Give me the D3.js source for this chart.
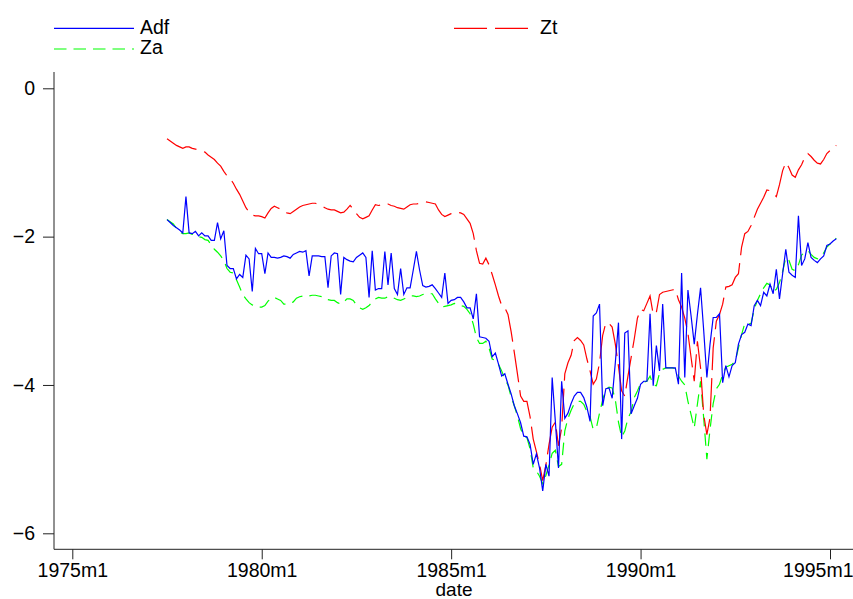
<!DOCTYPE html>
<html>
<head>
<meta charset="utf-8">
<script src="https://cdn.jsdelivr.net/npm/d3@7"></script>
<style>
  body { margin: 0; background: #fff; }
  svg text { font-family: "Liberation Sans", Arial, Helvetica, sans-serif; }
</style>
</head>
<body>
<div id="chart"></div>
<script>
// monthly series, first month = 1977m7 (months counted from 1975m1)
let startMonth = 30;

let adf = [
  -1.77,-1.81,-1.85,-1.88,-1.91,-1.95,-1.46,-1.95,-1.96,-1.93,
  -1.99,-1.95,-1.99,-1.99,-2.05,-2.05,-1.81,-2.03,-1.92,-2.39,
  -2.43,-2.43,-2.57,-2.51,-2.55,-2.25,-2.30,-2.74,-2.16,-2.23,
  -2.23,-2.50,-2.22,-2.28,-2.28,-2.29,-2.28,-2.26,-2.27,-2.29,
  -2.24,-2.22,-2.20,-2.21,
  -2.19,-2.53,-2.26,-2.26,-2.26,-2.27,-2.27,
  -2.69,-2.26,-2.22,-2.23,-2.78,-2.28,-2.31,-2.33,-2.34,-2.28,
  -2.25,-2.22,-2.28,-2.82,-2.19,-2.72,-2.70,-2.70,-2.20,-2.65,
  -2.22,-2.70,-2.78,-2.43,-2.78,-2.69,-2.69,-2.45,-2.20,-2.45,
  -2.66,-2.68,-2.67,-2.65,-2.70,-2.76,-2.82,-2.49,-2.90,-2.86,
  -2.85,-2.82,-2.82,-2.88,-2.96,-2.96,-3.11,-2.77,-3.35,-3.36,
  -3.37,-3.41,-3.62,-3.57,-3.72,-3.88,-3.85,-3.99,-4.12,-4.28,
  -4.39,-4.51,-4.69,-4.70,-4.80,-5.07,-4.93,-5.12,-5.43,-5.07,
  -5.23,-3.90,-4.49,-5.12,-3.95,-4.45,-4.38,-4.25,-4.15,-4.10,
  -4.10,-4.17,-4.30,-4.49,-3.07,-3.03,-2.91,-4.28,-4.05,-4.04,
  -4.18,-3.70,-3.16,-4.73,-3.30,-3.27,-4.39,-4.28,-4.18,-3.99,
  -3.95,-3.95,-3.04,-4.01,-3.47,-3.81,-2.91,-3.77,-3.77,-3.77,
  -3.77,-3.99,-2.49,-3.90,-2.72,-3.07,-3.45,-3.05,-2.69,-3.27,
  -3.90,-3.45,-3.09,-3.09,-3.04,-3.97,-3.74,-3.89,-3.74,-3.70,
  -3.45,-3.32,-3.29,-3.18,-3.20,-2.93,-2.86,-2.93,-2.75,-2.80,
  -2.64,-2.77,-2.44,-2.84,-2.50,-2.17,-2.48,-2.52,-2.55,-1.72,
  -2.39,-2.30,-2.08,-2.28,-2.32,-2.35,-2.30,-2.26,-2.12,-2.10,-2.06,-2.03
];

let zt = [
  -0.68,-0.71,-0.74,-0.77,-0.79,-0.81,-0.79,-0.79,-0.81,-0.82,
  -0.83,-0.84,-0.86,-0.90,-0.93,-0.96,-1.01,-1.05,-1.12,-1.18,
  -1.22,-1.28,-1.36,-1.43,-1.52,-1.61,-1.67,-1.71,-1.72,-1.72,
  -1.73,-1.75,-1.68,-1.62,-1.59,-1.61,-1.63,-1.66,-1.68,-1.69,
  -1.66,-1.63,-1.60,-1.58,
  -1.57,-1.56,-1.55,-1.55,-1.57,-1.59,-1.61,
  -1.63,-1.64,-1.64,-1.66,-1.68,-1.67,-1.63,-1.58,-1.63,-1.69,
  -1.74,-1.76,-1.74,-1.72,-1.64,-1.57,-1.58,-1.57,-1.55,-1.56,
  -1.58,-1.59,-1.61,-1.62,-1.63,-1.60,-1.57,-1.56,-1.56,-1.55,
  -1.54,-1.53,-1.54,-1.55,-1.56,-1.64,-1.70,-1.73,-1.71,-1.69,
  -1.67,-1.67,-1.68,-1.70,-1.76,-1.82,-1.96,-2.19,-2.36,-2.37,
  -2.29,-2.38,-2.51,-2.65,-2.80,-2.93,-2.96,-3.05,-3.28,-3.56,
  -3.85,-4.15,-4.22,-4.22,-4.43,-4.73,-4.90,-5.07,-5.29,-5.08,
  -4.80,-4.57,-4.50,-4.82,-4.58,-3.85,-3.70,-3.60,-3.40,-3.36,
  -3.40,-3.46,-3.65,-3.81,-3.99,-3.92,-3.70,-3.33,-3.16,-3.17,
  -3.22,-3.45,-3.75,-4.08,-4.15,-3.88,-3.63,-3.38,-3.10,-2.98,
  -3.00,-2.90,-2.80,-3.05,-3.02,-2.78,-2.75,-2.74,-2.73,-2.72,
  -2.71,-2.85,-2.95,-3.10,-3.30,-3.63,-3.95,-3.41,-3.77,-4.40,
  -4.67,-4.44,-3.50,-3.14,-3.05,-2.91,-2.68,-2.67,-2.65,-2.55,
  -2.50,-2.14,-1.96,-1.93,-1.85,-1.74,-1.63,-1.55,-1.47,-1.37,
  -1.38,-1.42,-1.46,-1.30,-1.11,-1.00,-1.07,-1.17,-1.20,-1.10,
  -1.03,-0.93,-0.88,-0.92,-0.97,-1.01,-1.02,-0.96,-0.88,-0.84,-0.79,-0.77
];

let za = [
  -1.77,-1.80,-1.83,-1.89,-1.94,-1.96,-1.96,-1.95,-1.97,-1.98,
  -2.00,-2.01,-2.04,-2.05,-2.11,-2.17,-2.21,-2.26,-2.32,-2.43,
  -2.48,-2.49,-2.58,-2.68,-2.78,-2.84,-2.89,-2.92,-2.94,-2.95,
  -2.95,-2.93,-2.87,-2.83,-2.82,-2.84,-2.86,-2.91,-2.91,-2.90,
  -2.88,-2.83,-2.81,-2.80,
  -2.80,-2.80,-2.79,-2.79,-2.80,-2.81,-2.84,
  -2.85,-2.86,-2.86,-2.89,-2.91,-2.88,-2.84,-2.84,-2.86,-2.92,
  -2.96,-2.98,-2.96,-2.93,-2.88,-2.84,-2.82,-2.83,-2.83,-2.81,
  -2.81,-2.83,-2.85,-2.86,-2.84,-2.82,-2.80,-2.80,-2.81,-2.80,
  -2.78,-2.77,-2.77,-2.77,-2.84,-2.90,-2.95,-2.94,-2.93,-2.92,
  -2.90,-2.91,-2.93,-2.94,-2.98,-3.04,-3.18,-3.36,-3.44,-3.44,
  -3.41,-3.50,-3.65,-3.67,-3.72,-3.81,-3.92,-4.00,-4.16,-4.28,
  -4.42,-4.59,-4.69,-4.71,-4.86,-5.12,-5.16,-5.23,-5.33,-5.22,
  -5.08,-4.92,-4.88,-5.10,-5.07,-4.62,-4.45,-4.34,-4.25,-4.22,
  -4.22,-4.26,-4.36,-4.43,-4.60,-4.58,-4.38,-4.20,-4.06,-4.03,
  -4.04,-4.20,-4.50,-4.70,-4.62,-4.45,-4.36,-4.17,-4.08,-3.98,
  -3.96,-3.95,-3.88,-4.00,-4.01,-3.84,-3.79,-3.77,-3.77,-3.77,
  -3.78,-3.88,-3.95,-4.00,-4.22,-4.40,-4.58,-4.26,-3.95,-4.45,
  -5.00,-4.60,-4.25,-4.05,-3.99,-3.86,-3.76,-3.74,-3.72,-3.68,
  -3.50,-3.32,-3.17,-3.18,-3.17,-2.98,-2.86,-2.77,-2.69,-2.63,
  -2.65,-2.74,-2.71,-2.62,-2.47,-2.28,-2.32,-2.44,-2.46,-2.38,
  -2.25,-2.21,-2.19,-2.24,-2.28,-2.30,-2.27,-2.22,-2.14,-2.10,-2.06,-2.02
];

// tick labels
let xTicks = [0, 60, 120, 180, 240];   // 1975m1 ... 1995m1
let xTickLabels = ["1975m1", "1980m1", "1985m1", "1990m1", "1995m1"];
let yTicks = [0, -2, -4, -6];

let series = [
  {name: "Adf", values: adf, color: "#0000ff", dash: null},
  {name: "Zt",  values: zt,  color: "#ff0000", dash: "33,8"},
  {name: "Za",  values: za,  color: "#00ff00", dash: "12.5,7"}
];

let width = 853, height = 599;
let fontSize = 19.5;

let svg = d3.select("#chart")
    .append("svg")
    .attr("width", width)
    .attr("height", height);

// scales
let x = d3.scaleLinear().domain([0, 240]).range([72.3, 830]);
let y = d3.scaleLinear().domain([0, -6]).range([88.3, 533.3]);

let axisLeftX = 54, axisBottomY = 549.3, axisTopY = 72;

// x axis
let xAxis = svg.append("g")
    .attr("transform", `translate(0, ${axisBottomY})`)
    .call(d3.axisBottom(x)
        .tickValues(xTicks)
        .tickFormat((d, i) => xTickLabels[i])
        .tickSize(10)
        .tickPadding(4));
xAxis.select(".domain").remove();
xAxis.selectAll("line").attr("stroke", "#222");
xAxis.selectAll("text")
    .attr("fill", "#000")
    .style("font-size", fontSize + "px");
// last label pushed inside the picture
xAxis.selectAll(".tick").filter(d => d === 240).select("text")
    .attr("text-anchor", "end")
    .attr("x", width - x(240));

svg.append("line")
    .attr("x1", axisLeftX).attr("x2", width)
    .attr("y1", axisBottomY).attr("y2", axisBottomY)
    .attr("stroke", "#222").attr("stroke-width", 1);

// y axis
let yAxis = svg.append("g")
    .attr("transform", `translate(${axisLeftX}, 0)`)
    .call(d3.axisLeft(y)
        .tickValues(yTicks)
        .tickFormat(d => d < 0 ? "\u2212" + Math.abs(d) : d)
        .tickSize(11)
        .tickPadding(8));
yAxis.select(".domain").remove();
yAxis.selectAll("line").attr("stroke", "#222");
yAxis.selectAll("text")
    .attr("fill", "#000")
    .style("font-size", fontSize + "px");

svg.append("line")
    .attr("x1", axisLeftX).attr("x2", axisLeftX)
    .attr("y1", axisTopY).attr("y2", axisBottomY)
    .attr("stroke", "#222").attr("stroke-width", 1);

// x title
svg.append("text")
    .attr("x", 454)
    .attr("y", 596)
    .attr("text-anchor", "middle")
    .style("font-size", "19px")
    .text("date");

// lines
let line = d3.line()
    .x((d, i) => x(startMonth + i))
    .y(d => y(d));

// draw Za, Zt first, Adf on top
[series[2], series[1], series[0]].forEach(s => {
    svg.append("path")
        .datum(s.values)
        .attr("fill", "none")
        .attr("stroke", s.color)
        .attr("stroke-width", 1.2)
        .attr("stroke-dasharray", s.dash)
        .attr("d", line);
});

// legend: two columns, Adf | Zt on row 1, Za on row 2
let legendPos = [
    {x: 54, y: 28.3},
    {x: 454, y: 28.3},
    {x: 54, y: 49}
];
let legend = svg.append("g");
series.forEach((s, i) => {
    let p = legendPos[i];
    legend.append("line")
        .attr("x1", p.x).attr("x2", p.x + 80)
        .attr("y1", p.y).attr("y2", p.y)
        .attr("stroke", s.color)
        .attr("stroke-width", 1.2)
        .attr("stroke-dasharray", s.dash);
    legend.append("text")
        .attr("x", p.x + 86)
        .attr("y", p.y)
        .attr("dy", "0.27em")
        .style("font-size", fontSize + "px")
        .text(s.name);
});
</script>
</body>
</html>
